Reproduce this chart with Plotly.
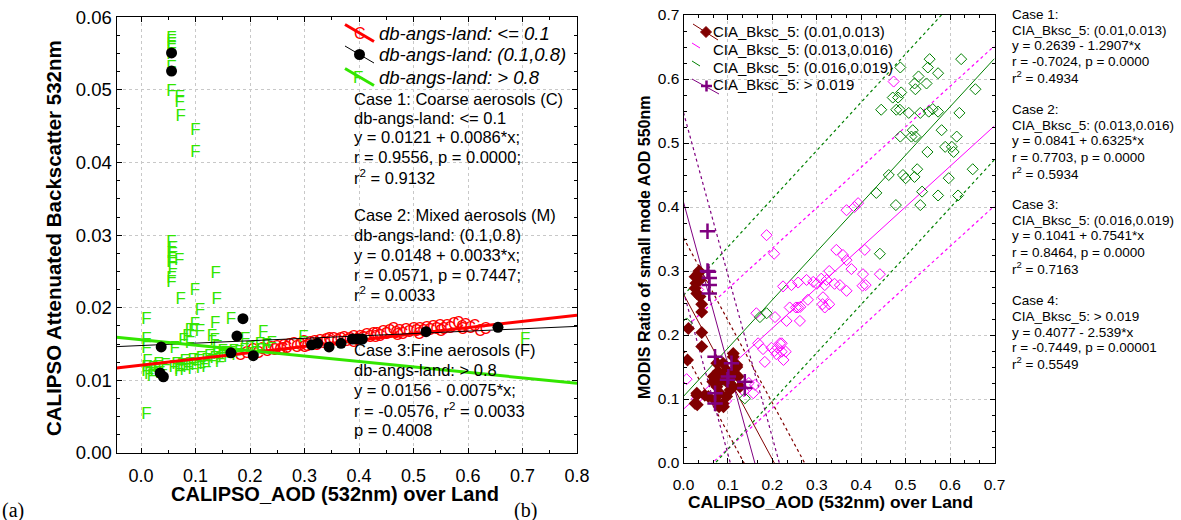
import plotly.graph_objects as go

W, H = 1181, 520
FONT = "Liberation Sans, Arial, sans-serif"

# ---------------- Panel (a) data ----------------
coarse_x = [0.182,0.194,0.205,0.215,0.222,0.231,0.238,0.245,0.249,0.255,0.262,0.267,0.272,0.280,0.286,0.292,0.298,0.305,0.31,0.318,
            0.322,0.328,0.335,0.34,0.347,0.353,0.36,0.366,0.372,0.377,0.383,0.39,0.396,0.402,0.408,0.414,0.42,0.426,0.432,0.438,
            0.444,0.45,0.456,0.463,0.468,0.474,0.48,0.486,0.492,0.5,0.505,0.511,0.518,0.524,0.53,0.536,0.542,0.548,0.555,0.561,
            0.567,0.574,0.582,0.589,0.595,0.604,0.612,0.622,0.632,0.26,0.30,0.345,0.39,0.43,0.47,0.51,0.55,0.59]
coarse_y = [0.0133,0.0137,0.0140,0.0136,0.0142,0.0139,0.0143,0.0140,0.0144,0.0141,0.0146,0.0143,0.0147,0.0149,0.0145,0.0148,0.0151,0.0146,0.0150,0.0152,
            0.0148,0.0153,0.0150,0.0154,0.0151,0.0156,0.0153,0.0155,0.0157,0.0153,0.0156,0.0158,0.0154,0.0159,0.0157,0.0161,0.0158,0.0162,0.0163,0.0160,
            0.0165,0.0162,0.0166,0.0169,0.0164,0.0167,0.0163,0.0168,0.0165,0.0169,0.0166,0.0170,0.0167,0.0171,0.0168,0.0172,0.0169,0.0173,0.0170,0.0174,
            0.0171,0.0176,0.0178,0.0172,0.0175,0.0171,0.0174,0.0167,0.0170,0.0142,0.0145,0.0156,0.0152,0.0159,0.0161,0.0163,0.0166,0.0169]

mixed_x = [0.037,0.041,0.035,0.056,0.056,0.176,0.187,0.206,0.165,0.313,0.324,0.345,0.367,0.388,0.397,0.406,0.523,0.655]
mixed_y = [0.0146,0.0105,0.0110,0.0551,0.0526,0.0161,0.0185,0.0134,0.0138,0.0149,0.0151,0.0146,0.0151,0.0157,0.0157,0.0157,0.0167,0.0173]

fine_x = [0.056,0.056,0.056,0.056,0.056,0.056,0.056,0.071,0.071,0.073,0.100,0.100,
          0.056,0.058,0.056,0.058,0.070,0.056,0.058,0.056,0.056,0.137,0.099,0.073,0.139,0.108,0.010,0.165,0.099,0.136,
          0.090,0.096,0.108,0.085,0.078,0.130,0.135,0.224,0.298,0.010,0.062,0.010,0.191,0.218,0.231,0.705,0.010,0.090,0.140,0.150,
          0.010,0.010,0.015,0.020,0.025,0.030,0.035,0.040,0.045,0.012,0.022,0.032,
          0.060,0.065,0.070,0.075,0.080,0.085,0.090,0.095,0.100,0.105,0.110,0.115,0.120,0.125,0.130,0.135,0.140,0.145,
          0.150,0.155,0.160,0.165,0.170,0.175,0.180,0.190,0.200,0.210,0.220,0.230,0.240,0.070,0.080,0.110,0.120,0.095,0.145]
fine_y = [0.0571,0.0566,0.0562,0.0556,0.0548,0.0530,0.0498,0.0489,0.0482,0.0463,0.0444,0.0413,
          0.0289,0.0281,0.0274,0.0268,0.0265,0.0262,0.0252,0.0240,0.0234,0.0247,0.0224,0.0211,0.0211,0.0196,0.0183,0.0184,0.0176,0.0178,
          0.0169,0.0167,0.0167,0.0160,0.0155,0.0160,0.0155,0.0165,0.0159,0.0156,0.0144,0.0144,0.0156,0.0149,0.0146,0.0156,0.0052,0.0150,0.0145,0.0140,
          0.0118,0.0112,0.0108,0.0105,0.0112,0.0118,0.0109,0.0113,0.0120,0.0125,0.0116,0.0122,
          0.0117,0.0122,0.0115,0.0120,0.0125,0.0118,0.0122,0.0127,0.0120,0.0125,0.0130,0.0122,0.0127,0.0132,0.0125,0.0130,0.0135,0.0128,
          0.0133,0.0137,0.0131,0.0136,0.0140,0.0134,0.0138,0.0141,0.0143,0.0145,0.0141,0.0147,0.0150,0.0112,0.0113,0.0116,0.0118,0.0114,0.0124]

# regression lines (intercept, slope) for panel (a): coarse, mixed, fine
a_intercepts = [0.0121, 0.0148, 0.0156]
a_slopes = [0.0086, 0.0033, -0.0075]
a_x_range = [-0.045, 0.8]
a_y_range = [0.0, 0.06]

# ---------------- Panel (b) data ----------------
c1_x = [0.033,0.026,0.037,0.028,0.026,0.030,0.037,0.041,0.041,0.041,0.041,0.011,0.030,0.026,0.048,0.067,0.075,0.078,0.089,0.086,
        0.075,0.097,0.112,0.120,0.123,0.104,0.112,0.082,0.056,0.071,0.089,0.097,0.127,0.066,0.093,0.030,0.031,0.112,0.120,0.105,
        0.090,0.080,0.009,0.035,0.100,0.115]
c1_y = [0.296,0.291,0.286,0.281,0.273,0.265,0.260,0.248,0.236,0.204,0.182,0.210,0.109,0.093,0.106,0.135,0.156,0.143,0.156,0.130,
        0.119,0.145,0.166,0.150,0.135,0.130,0.119,0.109,0.104,0.098,0.093,0.104,0.119,0.127,0.135,0.106,0.091,0.171,0.153,0.114,
        0.088,0.088,0.161,0.300,0.125,0.140]

c2_x = [0.187,0.204,0.224,0.243,0.258,0.277,0.164,0.206,0.239,0.258,0.232,0.262,0.168,0.179,0.198,0.205,0.212,0.209,0.221,0.230,
        0.183,0.161,0.157,0.033,0.007,0.078,0.367,0.385,0.393,0.344,0.359,0.367,0.408,0.328,0.378,0.404,0.442,0.292,0.300,0.310,
        0.322,0.318,0.340,0.352,0.367,0.403,0.410,0.280,0.253,0.263,0.314,0.313,0.318,0.328,0.217,0.221,0.225,0.473,0.030,0.147,
        0.136,0.096]
c2_y = [0.356,0.327,0.276,0.278,0.282,0.286,0.234,0.228,0.243,0.243,0.222,0.222,0.187,0.178,0.180,0.175,0.180,0.170,0.187,0.174,
        0.158,0.122,0.109,0.271,0.131,0.096,0.395,0.400,0.406,0.333,0.325,0.317,0.333,0.300,0.303,0.295,0.295,0.283,0.280,0.288,
        0.286,0.278,0.280,0.278,0.269,0.277,0.278,0.255,0.243,0.244,0.259,0.248,0.243,0.248,0.187,0.174,0.161,0.596,0.100,0.125,
        0.112,0.097]

c3_x = [0.554,0.625,0.488,0.550,0.573,0.529,0.520,0.547,0.522,0.657,0.471,0.483,0.490,0.445,0.479,0.487,0.507,0.533,0.552,0.561,
        0.573,0.621,0.516,0.513,0.522,0.488,0.581,0.615,0.549,0.589,0.604,0.608,0.462,0.494,0.500,0.520,0.526,0.597,0.651,0.537,
        0.573,0.618,0.478,0.533,0.442,0.434,0.007,0.172,0.187,0.105,0.090,0.086,0.138]
c3_y = [0.631,0.631,0.618,0.618,0.609,0.604,0.593,0.593,0.584,0.584,0.571,0.571,0.579,0.552,0.552,0.552,0.547,0.547,0.549,0.553,
        0.549,0.547,0.520,0.510,0.510,0.510,0.520,0.510,0.486,0.494,0.494,0.486,0.450,0.450,0.445,0.447,0.459,0.445,0.459,0.424,
        0.418,0.418,0.403,0.403,0.327,0.422,0.218,0.228,0.234,0.125,0.130,0.104,0.101]

c4_x = [0.054,0.056,0.058,0.058,0.058,0.054,0.071,0.108,0.101,0.099,0.138,0.138,0.071,0.071]
c4_y = [0.362,0.299,0.289,0.278,0.265,0.300,0.166,0.156,0.135,0.130,0.127,0.117,0.109,0.093]

# regression (intercept, slope) and prediction-band half widths
b_intercepts = [0.2639, 0.0841, 0.1041, 0.4077]
b_slopes = [-1.2907, 0.6325, 0.7541, -2.539]
b_band = [0.088, 0.125, 0.158, 0.14]
b_x_range = [0.0, 0.7]
b_y_range = [0.0, 0.7]

b_colors = ["#800000", "#ff00ff", "#008000", "#800080"]

# ---------------- text ----------------
a_legend_labels = ["db-angs-land: <= 0.1", "db-angs-land: (0.1,0.8)", "db-angs-land: > 0.8"]
a_text_lines = [
    "Case 1: Coarse aerosols (C)", "db-angs-land: <= 0.1", "y = 0.0121 + 0.0086*x;", "r = 0.9556, p = 0.0000;", "r<sup>2</sup> = 0.9132",
    "Case 2: Mixed aerosols (M)", "db-angs-land: (0.1,0.8)", "y = 0.0148 + 0.0033*x;", "r = 0.0571, p = 0.7447;", "r<sup>2</sup> = 0.0033",
    "Case 3:Fine aerosols (F)", "db-angs-land: > 0.8", "y = 0.0156 - 0.0075*x;", "r = -0.0576, r<sup>2</sup> = 0.0033", "p = 0.4008",
]
a_text_ypx = [99, 118, 137, 157, 177, 215, 235, 255, 275, 294, 350, 370, 390, 410, 430]

b_legend_labels = ["CIA_Bksc_5: (0.01,0.013)", "CIA_Bksc_5: (0.013,0.016)", "CIA_Bksc_5: (0.016,0.019)", "CIA_Bksc_5: > 0.019"]
b_text_lines = [
    "Case 1:", "CIA_Bksc_5: (0.01,0.013)", "y = 0.2639 - 1.2907*x", "r = -0.7024, p = 0.0000", "r<sup>2</sup> = 0.4934",
    "Case 2:", "CIA_Bksc_5: (0.013,0.016)", "y = 0.0841 + 0.6325*x", "r = 0.7703, p = 0.0000", "r<sup>2</sup> = 0.5934",
    "Case 3:", "CIA_Bksc_5: (0.016,0.019)", "y = 0.1041 + 0.7541*x", "r = 0.8464, p = 0.0000", "r<sup>2</sup> = 0.7163",
    "Case 4:", "CIA_Bksc_5: > 0.019", "y = 0.4077 - 2.539*x", "r = -0.7449, p = 0.00001", "r<sup>2</sup> = 0.5549",
]
b_text_ypx = [14, 30, 45, 61, 77, 109, 125, 141, 157, 173, 205, 220, 236, 252, 268, 300, 316, 332, 347, 363]


def PX(x):
    return x / W


def PY(y):
    return 1 - y / H


fig = go.Figure()

# ---- panel (a) ----
RED, BLACK, LIME = "#ff0000", "#000000", "#33e600"
fig.add_trace(go.Scatter(x=coarse_x, y=coarse_y, mode="text", text=["C"] * len(coarse_x),
                         textfont=dict(color=RED, size=16, family=FONT), xaxis="x", yaxis="y", hoverinfo="skip"))
fig.add_trace(go.Scatter(x=fine_x, y=fine_y, mode="text", text=["F"] * len(fine_x),
                         textfont=dict(color=LIME, size=17, family=FONT), xaxis="x", yaxis="y", hoverinfo="skip"))
for a, b, col, wd in zip(a_intercepts, a_slopes, [RED, BLACK, LIME], [3, 1, 3]):
    fig.add_trace(go.Scatter(x=a_x_range, y=[a + b * xx for xx in a_x_range], mode="lines",
                             line=dict(color=col, width=wd), xaxis="x", yaxis="y", hoverinfo="skip"))
fig.add_trace(go.Scatter(x=mixed_x, y=mixed_y, mode="markers",
                         marker=dict(color=BLACK, size=11, symbol="circle"), xaxis="x", yaxis="y"))

# ---- panel (b) ----
xs = b_x_range
for a, b, hw, col in zip(b_intercepts, b_slopes, b_band, b_colors):
    fig.add_trace(go.Scatter(x=xs, y=[a + b * xx for xx in xs], mode="lines",
                             line=dict(color=col, width=1), xaxis="x2", yaxis="y2", hoverinfo="skip"))
    for s in (1, -1):
        fig.add_trace(go.Scatter(x=xs, y=[a + s * hw + b * xx for xx in xs], mode="lines",
                                 line=dict(color=col, width=1.2, dash="dot"), xaxis="x2", yaxis="y2", hoverinfo="skip"))

fig.add_trace(go.Scatter(x=c2_x, y=c2_y, mode="markers",
                         marker=dict(symbol="diamond-open", size=8.5, color=b_colors[1], line=dict(width=1)),
                         xaxis="x2", yaxis="y2"))
fig.add_trace(go.Scatter(x=c3_x, y=c3_y, mode="markers",
                         marker=dict(symbol="diamond-open", size=8.5, color=b_colors[2], line=dict(width=1)),
                         xaxis="x2", yaxis="y2"))
fig.add_trace(go.Scatter(x=c1_x, y=c1_y, mode="markers",
                         marker=dict(symbol="diamond", size=10, color=b_colors[0]),
                         xaxis="x2", yaxis="y2"))
fig.add_trace(go.Scatter(x=c4_x, y=c4_y, mode="markers",
                         marker=dict(symbol="cross-thin-open", size=11, color=b_colors[3], line=dict(width=2.5, color=b_colors[3])),
                         xaxis="x2", yaxis="y2"))

# ---- axes ----
axis_common = dict(showline=True, linecolor="black", linewidth=1, mirror="ticks", ticks="inside",
                   ticklen=5, tickcolor="black", showgrid=True, gridcolor="#c8c8c8", griddash="dot",
                   gridwidth=1, zeroline=False, automargin=False)

fig.update_layout(
    xaxis=dict(axis_common, domain=[PX(116.5), PX(577)], range=a_x_range, anchor="y",
               tick0=0, dtick=0.1, tickformat=".1f", tickfont=dict(size=18, family=FONT, color="black"),
               ticklabelstandoff=6,
               minor=dict(ticks="inside", ticklen=3, dtick=0.05, tick0=0, tickcolor="black", showgrid=False)),
    yaxis=dict(axis_common, domain=[PY(453), PY(17.3)], range=a_y_range, anchor="x",
               tick0=0, dtick=0.01, tickformat=".2f", tickfont=dict(size=18.5, family=FONT, color="black"),
               minor=dict(ticks="inside", ticklen=3, dtick=0.0025, tick0=0, tickcolor="black", showgrid=False)),
    xaxis2=dict(axis_common, domain=[PX(683.5), PX(994.5)], range=b_x_range, anchor="y2",
                tick0=0, dtick=0.1, tickformat=".1f", tickfont=dict(size=15.5, family=FONT, color="black"),
                ticklabelstandoff=7,
                minor=dict(ticks="inside", ticklen=3, dtick=0.1 / 3, tick0=0, tickcolor="black", showgrid=False)),
    yaxis2=dict(axis_common, domain=[PY(463), PY(15)], range=b_y_range, anchor="x2",
                tick0=0, dtick=0.1, tickformat=".1f", tickfont=dict(size=15.5, family=FONT, color="black"),
                minor=dict(ticks="inside", ticklen=3, dtick=0.025, tick0=0, tickcolor="black", showgrid=False)),
    width=W, height=H, margin=dict(l=0, r=0, t=0, b=0, autoexpand=False),
    paper_bgcolor="white", plot_bgcolor="white", showlegend=False,
)

ann = []
shapes = []
# axis titles
ann.append(dict(text="<b>CALIPSO Attenuated Backscatter 532nm</b>", x=PX(54), y=PY(238), textangle=-90,
                font=dict(size=20.5, family=FONT, color="black")))
ann.append(dict(text="<b>CALIPSO_AOD (532nm) over Land</b>", x=PX(335), y=PY(494),
                font=dict(size=20, family=FONT, color="black")))
ann.append(dict(text="<b>MODIS Ratio of small mode AOD 550nm</b>", x=PX(644), y=PY(248), textangle=-90,
                font=dict(size=16, family=FONT, color="black")))
ann.append(dict(text="<b>CALIPSO_AOD (532nm) over Land</b>", x=PX(830), y=PY(502),
                font=dict(size=17.4, family=FONT, color="black")))
ann.append(dict(text="(a)", x=PX(0), y=PY(510), xanchor="left",
                font=dict(size=20, family="Liberation Serif, Times New Roman, serif", color="black")))
ann.append(dict(text="(b)", x=PX(512), y=PY(510), xanchor="left",
                font=dict(size=20, family="Liberation Serif, Times New Roman, serif", color="black")))

# panel (a) text block
for t, yy in zip(a_text_lines, a_text_ypx):
    ann.append(dict(text=t, x=PX(352), y=PY(yy), xanchor="left",
                    font=dict(size=16.5, family=FONT, color="black")))
# panel (a) legend
leg_y = [33, 54.5, 77]
for lab, yy in zip(a_legend_labels, leg_y):
    ann.append(dict(text="<i>" + lab + "</i>", x=PX(377), y=PY(yy), xanchor="left",
                    font=dict(size=18.5, family=FONT, color="black")))
for yy, col, wd in zip(leg_y, [RED, BLACK, LIME], [3, 1, 3]):
    shapes.append(dict(type="line", xref="paper", yref="paper", x0=PX(345), y0=PY(yy - 8.5),
                       x1=PX(374), y1=PY(yy + 8.5), line=dict(color=col, width=wd)))
ann.append(dict(text="C", x=PX(360), y=PY(33), font=dict(size=16, family=FONT, color=RED)))
shapes.append(dict(type="circle", xref="paper", yref="paper", x0=PX(354), x1=PX(365), y0=PY(49), y1=PY(60),
                   fillcolor=BLACK, line=dict(color=BLACK, width=0)))
ann.append(dict(text="F", x=PX(358), y=PY(77), font=dict(size=17, family=FONT, color=LIME)))

# panel (b) legend
bleg_y = [31, 49, 67, 85]
for lab, yy in zip(b_legend_labels, bleg_y):
    ann.append(dict(text=lab, x=PX(711), y=PY(yy), xanchor="left",
                    font=dict(size=15, family=FONT, color="black")))
shapes.append(dict(type="line", xref="paper", yref="paper", x0=PX(693), y0=PY(24), x1=PX(718), y1=PY(40),
                   line=dict(color=b_colors[0], width=1)))
cx, cy, r = 706, 32, 5.5
shapes.append(dict(type="path", xref="paper", yref="paper",
                   path=f"M {PX(cx)},{PY(cy - r)} L {PX(cx + r)},{PY(cy)} L {PX(cx)},{PY(cy + r)} L {PX(cx - r)},{PY(cy)} Z",
                   fillcolor=b_colors[0], line=dict(color=b_colors[0], width=1)))
shapes.append(dict(type="line", xref="paper", yref="paper", x0=PX(692), y0=PY(43), x1=PX(700), y1=PY(48),
                   line=dict(color=b_colors[1], width=1)))
shapes.append(dict(type="line", xref="paper", yref="paper", x0=PX(692), y0=PY(61), x1=PX(700), y1=PY(66),
                   line=dict(color=b_colors[2], width=1)))
shapes.append(dict(type="line", xref="paper", yref="paper", x0=PX(692), y0=PY(79), x1=PX(719), y1=PY(94),
                   line=dict(color=b_colors[3], width=1)))
shapes.append(dict(type="line", xref="paper", yref="paper", x0=PX(701), y0=PY(86), x1=PX(712), y1=PY(86),
                   line=dict(color=b_colors[3], width=2.5)))
shapes.append(dict(type="line", xref="paper", yref="paper", x0=PX(706.5), y0=PY(80.5), x1=PX(706.5), y1=PY(91.5),
                   line=dict(color=b_colors[3], width=2.5)))

# panel (b) text block
for t, yy in zip(b_text_lines, b_text_ypx):
    ann.append(dict(text=t, x=PX(1010), y=PY(yy), xanchor="left",
                    font=dict(size=13.5, family=FONT, color="black")))

for a in ann:
    a.setdefault("xref", "paper")
    a.setdefault("yref", "paper")
    a.setdefault("showarrow", False)
    a.setdefault("xanchor", "center")
    a.setdefault("yanchor", "middle")

fig.update_layout(annotations=ann, shapes=shapes)
fig.write_html("out.html", config={"displayModeBar": False},
               post_script="document.documentElement.style.margin='0';document.body.style.margin='0';"
                           "document.body.style.padding='0';document.body.style.overflow='hidden';")
